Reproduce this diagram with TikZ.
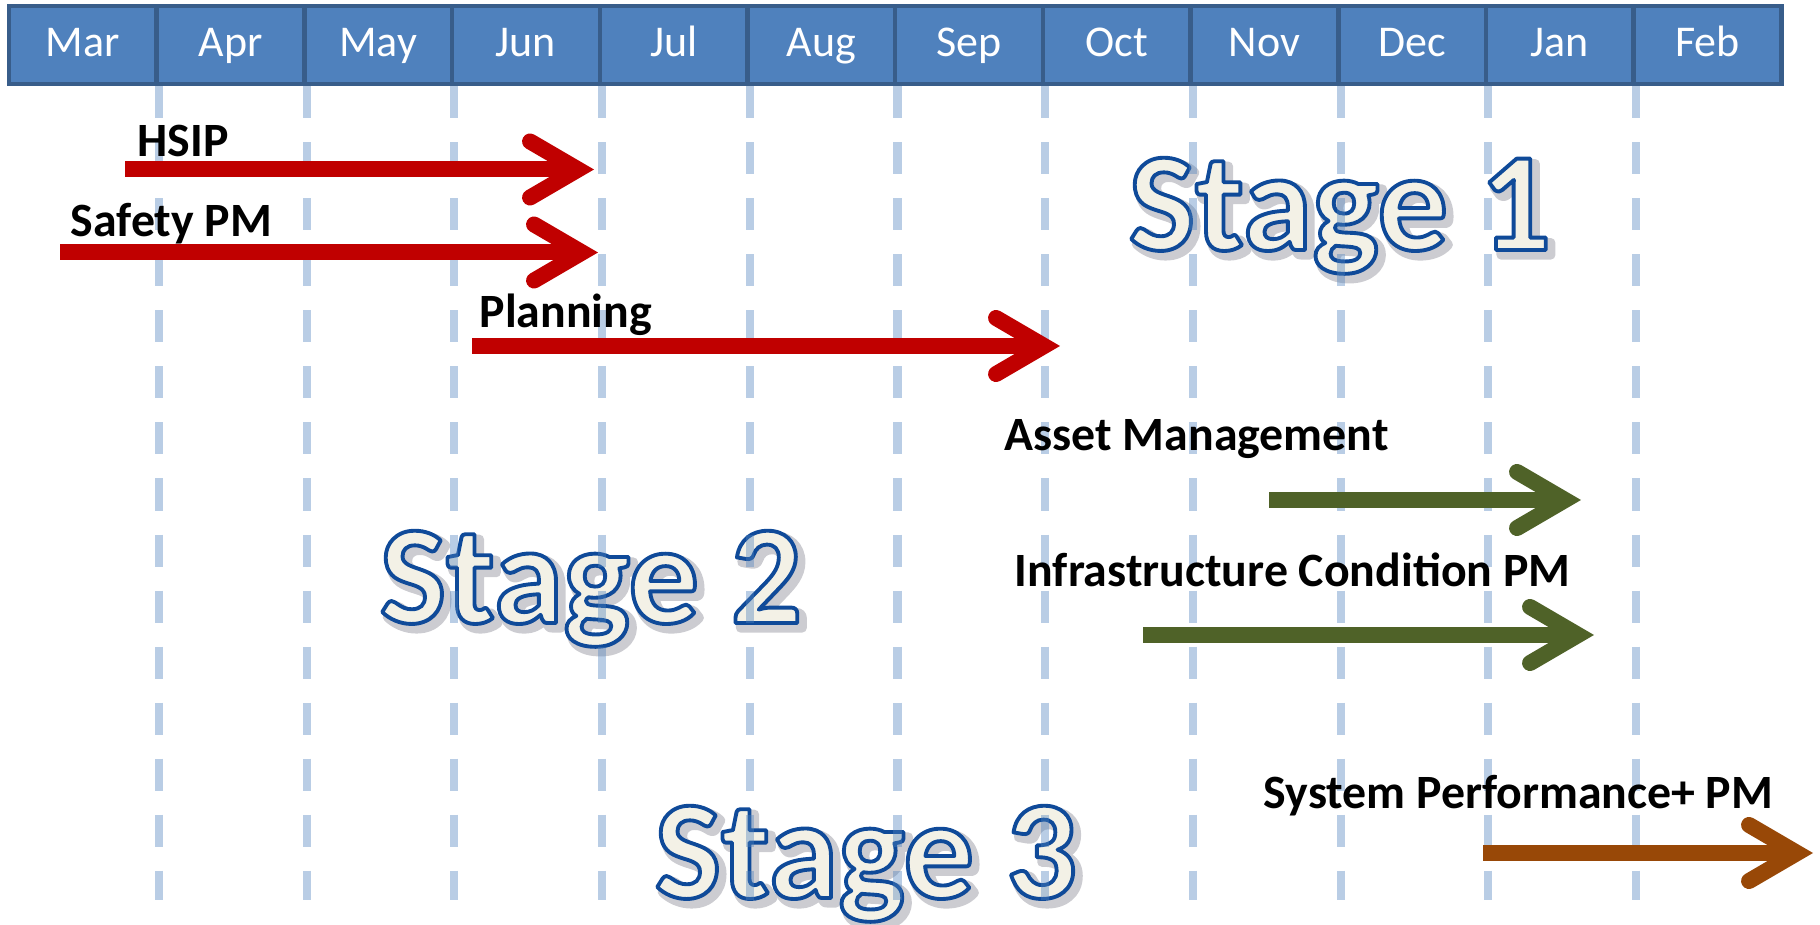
\documentclass[tikz,border=0pt]{standalone}
\usepackage{fontspec}
\setmainfont{Carlito}
\usepackage{xcolor}
\usetikzlibrary{arrows.meta}

\definecolor{barblue}{HTML}{4F81BD}
\definecolor{barline}{HTML}{385D8A}
\definecolor{taskred}{HTML}{C00000}
\definecolor{taskgreen}{HTML}{4F6228}
\definecolor{taskbrown}{HTML}{984807}
\definecolor{stagecream}{HTML}{F3F1E6}
\definecolor{stageshadow}{HTML}{AEAEB4}

% outlined text: fill and stroke in one pass
\newcommand{\stagetxt}[1]{\textcolor{stagecream}{\special{pdf:literal direct 0.06 0.29 0.6 RG 1.1 w 1 j 2 Tr}#1\special{pdf:literal direct 0 Tr 1 w 0 j}}}
\newcommand{\stageshade}[1]{\textcolor{stageshadow}{\special{pdf:literal direct 0.8 0.8 0.82 RG 2.6 w 1 j 2 Tr}#1\special{pdf:literal direct 0 Tr 1 w 0 j}}}

\begin{document}
\begin{tikzpicture}[x=0.01cm, y=-0.01cm]

    \tikzset{monthcell/.style={draw=barline, fill=barblue, line width=0.45mm,
        minimum width=14.77mm, minimum height=7.8mm, inner sep=0pt, text=white,
        font=\fontsize{12.5}{14}\selectfont, text height=0.64em, text depth=0pt}}
    \tikzset{gridline/.style={draw=barblue, draw opacity=0.4, line width=0.8mm,
        dash pattern=on 3.2mm off 2.4mm}}
    \tikzset{taskarrow/.style={line width=1.6mm,
        -{Straight Barb[length=4.8mm, width=5.6mm, line cap=round, line join=miter]}}}
    \tikzset{redarrow/.style={taskarrow, draw=taskred}}
    \tikzset{greenarrow/.style={taskarrow, draw=taskgreen}}
    \tikzset{brownarrow/.style={taskarrow, draw=taskbrown}}
    \tikzset{tasklabel/.style={font=\bfseries\fontsize{13.6}{16}\selectfont,
        anchor=base west, inner sep=0pt}}
    \tikzset{stagetext/.style={font=\bfseries\fontsize{40}{44}\selectfont,
        anchor=base west, inner sep=0pt}}

    \useasboundingbox (0,0) rectangle (1820,925);

    % month bar
    \foreach \m [count=\i] in {Mar,Apr,May,Jun,Jul,Aug,Sep,Oct,Nov,Dec,Jan,Feb}
        \node[monthcell] (m\i) at ({9+147.7*(\i-0.5)},45) {\m};

    % stages, under the grid
    \node[stagetext, xshift=0.5mm, yshift=-0.5mm] at (1128,250) {\stageshade{Stage 1}};
    \node[stagetext] (stage1) at (1128,250) {\stagetxt{Stage 1}};
    \node[stagetext, xshift=0.5mm, yshift=-0.5mm] at (379,623) {\stageshade{Stage 2}};
    \node[stagetext] (stage2) at (379,623) {\stagetxt{Stage 2}};
    \node[stagetext, xshift=0.5mm, yshift=-0.5mm] at (654,898) {\stageshade{Stage 3}};
    \node[stagetext] (stage3) at (654,898) {\stagetxt{Stage 3}};

    % month grid
    \coordinate (bottom) at (0,900);
    \foreach \i in {1,...,11}
        \draw[gridline] (m\i.south east) -- (m\i.south east |- bottom);

    % tasks
    \coordinate (hsipS) at (125,169.5);
    \coordinate (hsipE) at (594,169.5);
    \coordinate (safetyS) at (60,252.5);
    \coordinate (safetyE) at (598,252.5);
    \coordinate (planS) at (472,346);
    \coordinate (planE) at (1060,346);
    \coordinate (assetS) at (1269,500);
    \coordinate (assetE) at (1581,500);
    \coordinate (infraS) at (1143,635);
    \coordinate (infraE) at (1594,635);
    \coordinate (sysS) at (1483,853);
    \coordinate (sysE) at (1813,853);

    \draw[redarrow] (hsipS) -- (hsipE);
    \draw[redarrow] (safetyS) -- (safetyE);
    \draw[redarrow] (planS) -- (planE);
    \draw[greenarrow] (assetS) -- (assetE);
    \draw[greenarrow] (infraS) -- (infraE);
    \draw[brownarrow] (sysS) -- (sysE);

    \node[tasklabel] (hsip) at (137,157) {HSIP};
    \node[tasklabel] (safety) at (70,237) {Safety PM};
    \node[tasklabel] (plan) at (479,328) {Planning};
    \node[tasklabel] (asset) at (1004,451) {Asset Management};
    \node[tasklabel] (infra) at (1014,587) {Infrastructure Condition PM};
    \node[tasklabel] (sys) at (1263,809) {System Performance+ PM};

\end{tikzpicture}
\end{document}
